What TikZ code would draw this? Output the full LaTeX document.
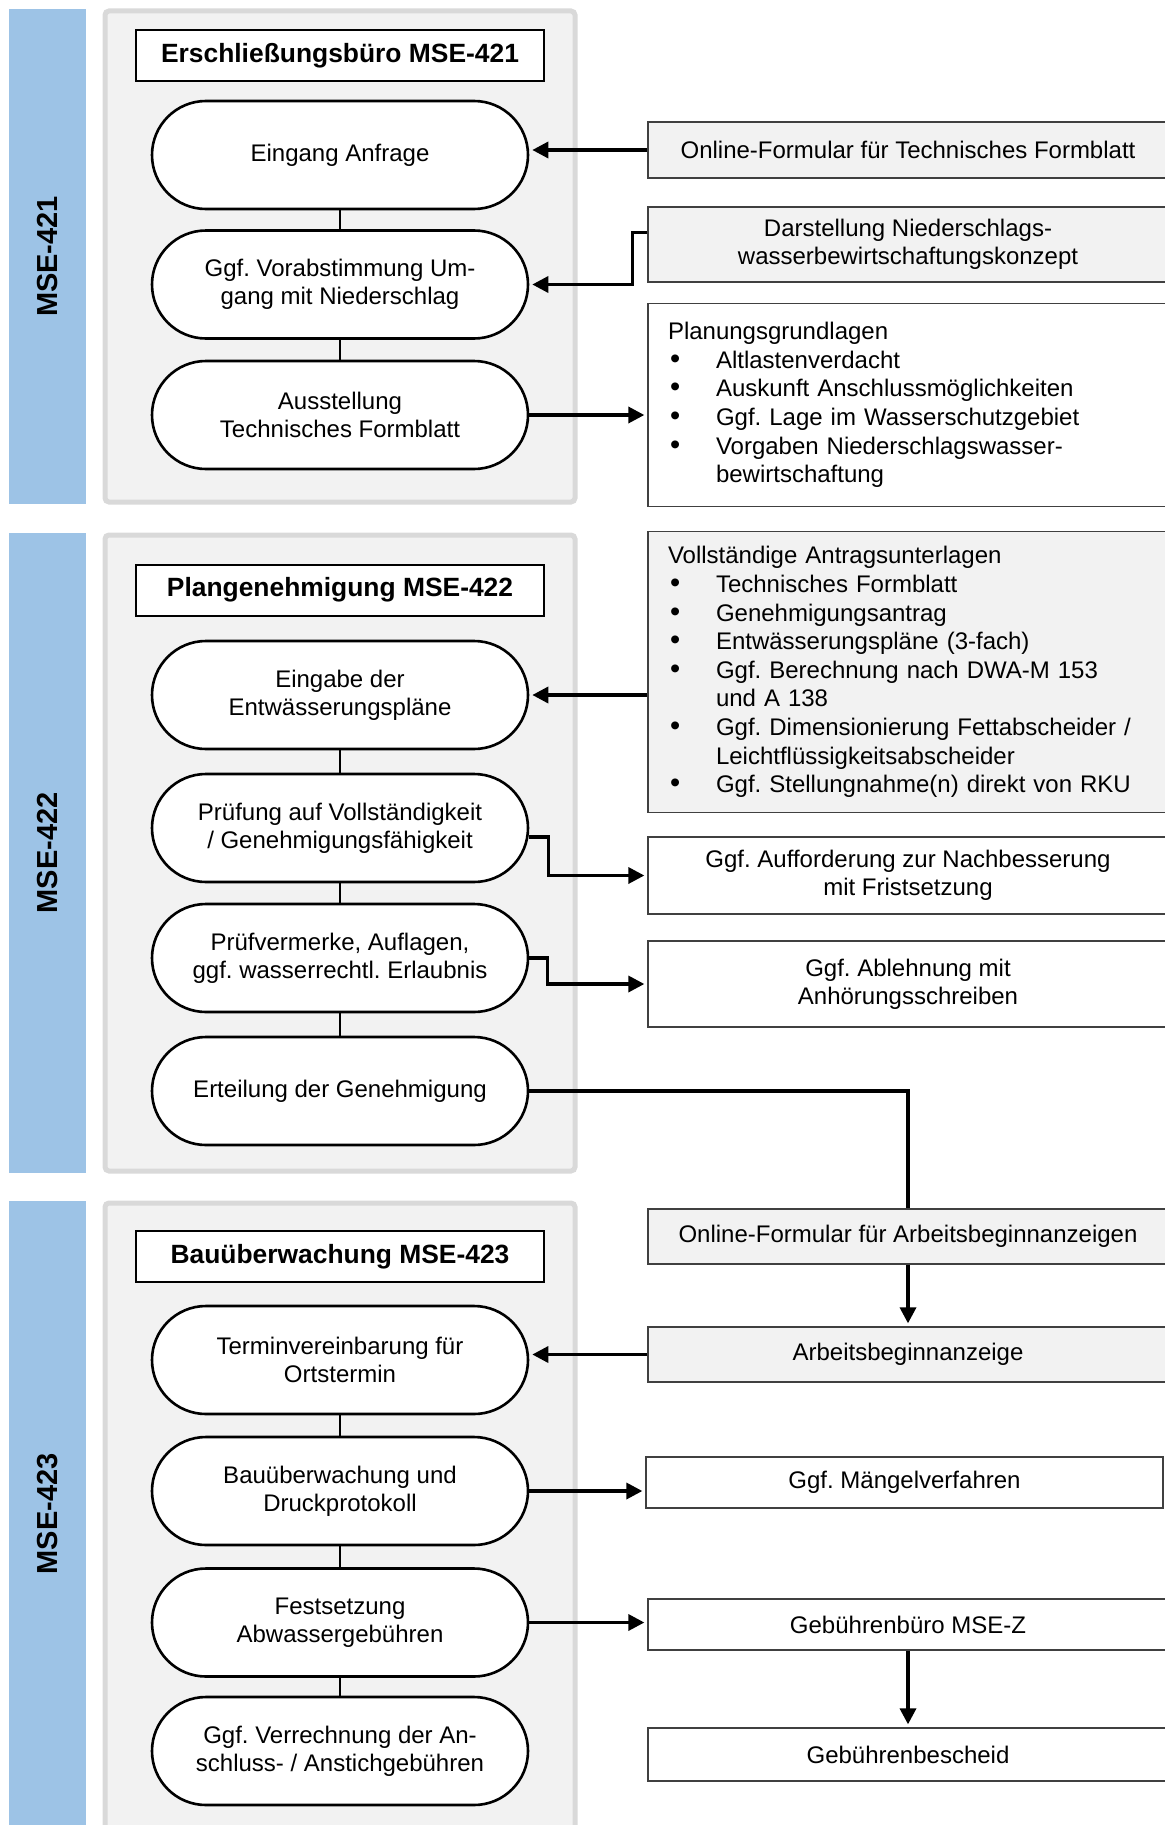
\documentclass[tikz,border=0pt]{standalone}
\usepackage{fontspec}
\setmainfont{Liberation Sans}
\usetikzlibrary{arrows.meta}
\definecolor{barblue}{HTML}{9DC3E6}
\definecolor{panelfill}{HTML}{F2F2F2}
\definecolor{paneledge}{HTML}{D9D9D9}
\definecolor{boxedge}{HTML}{404040}
\newcommand{\bul}{\makebox[24pt][l]{\hspace{1pt}{\fontsize{14.5}{14}\selectfont\textbullet}}}
\newcommand{\cont}{\hspace*{24pt}}
\frenchspacing

\begin{document}
\begin{tikzpicture}[x=0.5pt,y=-0.5pt,
    arrow/.style = {line width=1.7pt,-{Triangle[length=8pt,width=8pt]},shorten >=1.5pt},
    link/.style = {line width=1.7pt},
    joint/.style = {line width=0.75pt},
    panel/.style = {draw=paneledge,fill=panelfill,line width=2.5pt,rounded corners=2pt},
    sidelabel/.style = {rotate=90,font=\fontsize{14.5}{17}\selectfont\bfseries},
    headbox/.style = {draw,line width=1pt,fill=white,minimum width=204pt,minimum height=25.5pt,
        font=\fontsize{13.2}{15}\selectfont\bfseries},
    pill/.style = {draw,line width=1.3pt,fill=white,rounded corners=27pt,minimum width=188pt,
        minimum height=54pt,align=center,font=\fontsize{12}{13.8}\selectfont},
    infobox/.style = {draw=boxedge,line width=0.65pt,fill=white,minimum width=260pt,align=center,
        font=\fontsize{12}{13.8}\selectfont},
    formbox/.style = {infobox,fill=panelfill},
    listbox/.style = {infobox,align=left,text width=240pt,inner xsep=10pt,
        font=\fontsize{12}{14.3}\selectfont}]

    \useasboundingbox (0,0) rectangle (1165,1825);

    \fill[barblue] (9,9) rectangle (86,504);
    \fill[barblue] (9,533) rectangle (86,1173);
    \fill[barblue] (9,1201) rectangle (86,1830);
    \draw[panel] (105,11) rectangle (575,502);
    \draw[panel] (105,535) rectangle (575,1171);
    \draw[panel] (105,1203) rectangle (575,1840);

    \node[sidelabel] (mse421) at (47.5,256.5) {MSE-421};
    \node[sidelabel] (mse422) at (47.5,853) {MSE-422};
    \node[sidelabel] (mse423) at (47.5,1514) {MSE-423};

    \node[headbox] (head421) at (340,56) {Erschließungsbüro MSE-421};
    \node[pill] (eingang) at (340,155) {Eingang Anfrage};
    \node[pill] (vorab) at (340,284.5) {Ggf. Vorabstimmung Um-\\gang mit Niederschlag};
    \node[pill] (ausst) at (340,415) {Ausstellung\\Technisches Formblatt};

    \node[formbox,minimum height=28pt] (onlinetf) at (908,150)
        {Online-Formular für Technisches Formblatt};
    \node[formbox,minimum height=37.5pt] (darst) at (908,244.5)
        {Darstellung Niederschlags-\\wasserbewirtschaftungskonzept};
    \node[listbox,minimum height=101.5pt] (planung) at (908,405)
        {Planungsgrundlagen\\
         \bul Altlastenverdacht\\
         \bul Auskunft Anschlussmöglichkeiten\\
         \bul Ggf. Lage im Wasserschutzgebiet\\
         \bul Vorgaben Niederschlagswasser-\\
         \cont bewirtschaftung};

    \draw[joint] (eingang) -- (vorab);
    \draw[joint] (vorab) -- (ausst);
    \draw[arrow] (onlinetf.west) -- (onlinetf.west -| eingang.east);
    \draw[arrow] ([yshift=6pt]darst.west) -- ++(-15,0) |- (vorab.east);
    \draw[arrow] (ausst.east) -- (ausst.east -| planung.west);

    \node[headbox] (head422) at (340,590) {Plangenehmigung MSE-422};
    \node[pill] (eingabe) at (340,695) {Eingabe der\\Entwässerungspläne};
    \node[pill] (pruefung) at (340,828) {Prüfung auf Vollständigkeit\\/ Genehmigungsfähigkeit};
    \node[pill] (vermerke) at (340,958) {Prüfvermerke, Auflagen,\\ggf. wasserrechtl. Erlaubnis};
    \node[pill] (erteilung) at (340,1091) {Erteilung der Genehmigung};

    \node[listbox,fill=panelfill,minimum height=140.5pt] (unterlagen) at (908,672)
        {Vollständige Antragsunterlagen\\
         \bul Technisches Formblatt\\
         \bul Genehmigungsantrag\\
         \bul Entwässerungspläne (3-fach)\\
         \bul Ggf. Berechnung nach DWA-M 153\\
         \cont und A 138\\
         \bul Ggf. Dimensionierung Fettabscheider /\\
         \cont Leichtflüssigkeitsabscheider\\
         \bul Ggf. Stellungnahme(n) direkt von RKU};
    \node[infobox,minimum height=38.5pt] (nachbess) at (908,875.5)
        {Ggf. Aufforderung zur Nachbesserung\\mit Fristsetzung};
    \node[infobox,minimum height=43pt] (ablehnung) at (908,984)
        {Ggf. Ablehnung mit\\Anhörungsschreiben};

    \draw[joint] (eingabe) -- (pruefung);
    \draw[joint] (pruefung) -- (vermerke);
    \draw[joint] (vermerke) -- (erteilung);
    \draw[arrow] (eingabe.east -| unterlagen.west) -- (eingabe.east);
    \draw[arrow] ([yshift=-4.5pt]pruefung.east) -- ++(19,0) |- (nachbess.west);
    \draw[arrow] (vermerke.east) -- ++(18,0) |- (ablehnung.west);

    \node[headbox] (head423) at (340,1256.5) {Bauüberwachung MSE-423};
    \node[pill] (termin) at (340,1360) {Terminvereinbarung für\\Ortstermin};
    \node[pill] (bauueb) at (340,1491) {Bauüberwachung und\\Druckprotokoll};
    \node[pill] (festsetz) at (340,1622.5) {Festsetzung\\Abwassergebühren};
    \node[pill] (verrech) at (340,1751) {Ggf. Verrechnung der An-\\schluss- / Anstichgebühren};

    \node[formbox,minimum height=27.5pt] (onlineab) at (908,1236.5)
        {Online-Formular für Arbeitsbeginnanzeigen};
    \node[formbox,minimum height=27.5pt] (beginn) at (908,1354.5) {Arbeitsbeginnanzeige};
    \node[infobox,minimum width=258.5pt,minimum height=25.5pt] (maengel) at (904.5,1482.5)
        {Ggf. Mängelverfahren};
    \node[infobox,minimum height=25.5pt] (gebbuero) at (908,1624.5) {Gebührenbüro MSE-Z};
    \node[infobox,minimum height=26.5pt] (bescheid) at (908,1754.5) {Gebührenbescheid};

    \draw[joint] (termin) -- (bauueb);
    \draw[joint] (bauueb) -- (festsetz);
    \draw[joint] (festsetz) -- (verrech);
    \draw[link] (erteilung.east) -| (onlineab.north);
    \draw[arrow] (onlineab) -- (beginn);
    \draw[arrow] (beginn.west) -- (beginn.west -| termin.east);
    \draw[arrow] (bauueb.east) -- (bauueb.east -| maengel.west);
    \draw[arrow] (festsetz.east) -- (festsetz.east -| gebbuero.west);
    \draw[arrow] (gebbuero) -- (bescheid);
\end{tikzpicture}
\end{document}
